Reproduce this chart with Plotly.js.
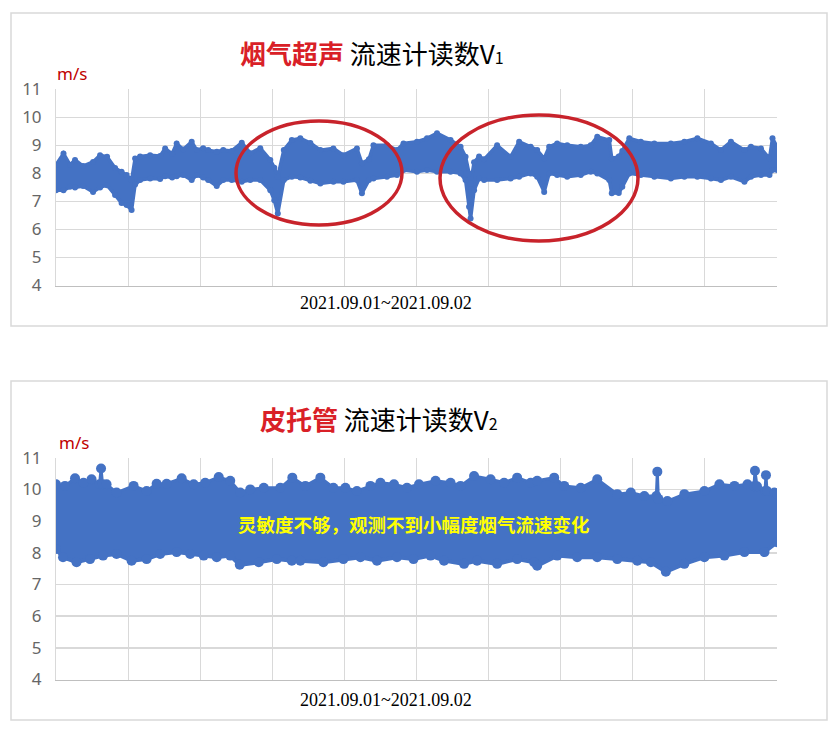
<!DOCTYPE html>
<html>
<head>
<meta charset="utf-8">
<script src="https://cdn.plot.ly/plotly-3.0.1.min.js"></script>
<style>
html,body{margin:0;padding:0;background:#fff;}
#chart{width:831px;height:733px;}
</style>
</head>
<body>
<div id="chart"></div>
<script>
// ---------- DATA ----------
// time axis: minutes over 2021.09.01~2021.09.02
const timeRange = [0, 1440];
const yTicks = [4, 5, 6, 7, 8, 9, 10, 11];
const xTitle = "2021.09.01~2021.09.02";

// Panel 1: ultrasonic flue-gas flow meter V1 (band: upper / lower envelope of the trace)
const t1 = [0,15,28,38,54,74,88,102,118,131,141,151,158,168,188,208,218,232,241,254,271,281,294,304,321,334,351,371,388,408,428,436,443,455,471,488,508,528,554,574,601,611,625,634,661,681,694,721,741,761,788,808,818,825,828,835,845,855,881,908,925,948,961,975,985,1001,1021,1048,1068,1081,1105,1110,1124,1131,1145,1168,1195,1228,1255,1281,1308,1328,1348,1375,1388,1408,1425,1431,1440];
const v1High = [8.3,8.71,8.3,8.48,8.26,8.41,8.65,8.59,8.19,8.06,7.94,7.76,8.53,8.6,8.65,8.62,8.89,8.7,9.07,8.85,9.13,8.83,8.9,8.83,8.77,8.83,8.8,9.09,8.72,8.9,8.48,8.2,7.88,8.83,9.19,9.25,9.08,8.83,8.89,8.65,8.89,8.36,8.5,9.0,9.0,8.83,9.07,9.13,9.25,9.43,9.19,8.95,8.59,8.0,7.64,8.4,8.6,8.5,9.0,8.59,9.13,8.95,8.83,8.53,8.95,9.07,9.0,8.95,9.0,9.31,9.19,8.53,8.6,8.8,9.25,9.13,9.07,9.07,9.13,9.25,9.07,8.83,9.13,8.83,8.95,8.89,8.53,9.25,8.95];
const v1Low = [7.4,7.4,7.52,7.5,7.55,7.34,7.5,7.58,7.23,6.94,6.87,6.69,7.6,7.76,7.82,7.8,7.9,7.85,7.9,7.94,7.76,7.94,7.85,7.76,7.55,7.76,7.76,7.7,7.76,7.76,7.4,7.04,6.57,7.76,7.88,7.85,7.74,7.64,7.7,7.7,7.76,7.29,7.76,7.82,7.88,7.94,8.12,8.06,8.12,8.06,8.06,8.0,7.76,6.81,6.39,7.4,7.82,7.76,7.76,7.82,7.88,8.0,7.88,7.34,8.0,7.94,7.88,7.94,8.06,8.0,7.76,7.29,7.3,7.52,8.0,7.94,7.88,7.82,7.88,7.88,7.82,7.76,7.88,7.7,7.88,7.94,7.94,8.12,8.12];

// Panel 2: pitot tube flow meter V2
const t2High = [0,18,38,55,71,87,90,93,101,121,155,181,201,221,251,275,298,325,348,368,388,415,448,472,498,528,554,578,601,628,648,675,701,725,758,788,808,835,868,895,921,948,961,995,1015,1048,1081,1121,1148,1175,1199,1201,1203,1221,1255,1295,1325,1355,1381,1394,1396,1400,1416,1418,1420,1435,1440];
const v2High = [10.16,10.11,10.35,10.21,10.32,10.16,10.66,10.16,10.16,9.9,10.11,9.95,10.18,10.18,10.35,10.16,10.21,10.39,10.27,9.9,10.0,10.05,10.05,10.37,10.11,10.37,10.05,10.05,9.95,10.11,10.21,10.16,10.05,10.16,10.27,10.21,10.11,10.42,10.32,10.21,10.37,10.21,10.27,10.37,10.11,10.05,10.32,9.85,9.9,9.79,9.79,10.56,9.7,9.63,9.85,9.95,10.16,10.11,10.16,10.1,10.59,10.1,9.95,10.45,9.95,9.9,9.85];
const t2Low = [0,14,41,68,94,121,151,181,208,241,268,295,321,348,367,405,441,471,488,534,574,608,641,681,714,748,775,815,841,881,921,955,961,1001,1041,1081,1121,1161,1188,1218,1255,1295,1335,1375,1415,1440];
const v2Low = [8.12,7.86,7.7,7.8,7.91,7.96,7.75,7.8,7.96,8.02,7.96,7.91,7.86,7.91,7.62,7.7,7.8,7.75,7.75,7.7,7.8,7.86,7.75,7.86,7.8,7.91,7.75,7.65,7.75,7.65,7.8,7.7,7.59,7.91,7.86,7.86,7.8,7.75,7.7,7.4,7.65,7.86,7.91,8.02,8.02,8.33];

// ---------- LAYOUT HELPERS ----------
const W = 831, H = 733;
const X = p => p / W;
const Y = p => 1 - p / H;
const BLUE = "#4472C4";
const GRID = "#d9d9d9";
const CJK = "'Noto Sans CJK SC', 'Noto Sans', sans-serif";
const NUM = "'Noto Sans', 'Liberation Sans', sans-serif";

const traces = [
  {x: t1, y: v1Low, xaxis: "x", yaxis: "y", mode: "lines+markers", line: {color: BLUE, width: 3.5}, marker: {color: BLUE, size: 6}, hoverinfo: "skip"},
  {x: t1, y: v1High, xaxis: "x", yaxis: "y", mode: "lines+markers", line: {color: BLUE, width: 3.5}, marker: {color: BLUE, size: 6}, fill: "tonexty", fillcolor: BLUE, hoverinfo: "skip"},
  {x: t2Low, y: v2Low, xaxis: "x2", yaxis: "y2", mode: "lines+markers", line: {color: BLUE, width: 4}, marker: {color: BLUE, size: 10}, hoverinfo: "skip"},
  {x: t2High, y: v2High, xaxis: "x2", yaxis: "y2", mode: "lines+markers", line: {color: BLUE, width: 3}, marker: {color: BLUE, size: 10}, fill: "tonexty", fillcolor: BLUE, hoverinfo: "skip"}
];

function xAxis(anchor) {
  return {domain: [X(56), X(777)], range: timeRange, anchor: anchor, dtick: 144, tick0: 0,
    showgrid: true, gridcolor: GRID, gridwidth: 1, showticklabels: false, ticks: "",
    zeroline: false, showline: true, linecolor: "#bfbfbf", linewidth: 1.5, fixedrange: true};
}
function yAxis(anchor, dom) {
  return {domain: dom, range: [4, 11], anchor: anchor, tickvals: yTicks, ticktext: yTicks.map(String),
    showgrid: true, gridcolor: GRID, gridwidth: 1.5, zeroline: false, showline: true, linecolor: GRID,
    ticks: "", ticklabelstandoff: 10, tickfont: {family: NUM, size: 17, color: "#666666"}, fixedrange: true};
}

function title(px, py, red, rest, sub) {
  return {xref: "paper", yref: "paper", x: X(px), y: Y(py), xanchor: "center", yanchor: "middle", showarrow: false,
    text: '<b><span style="color:#D92027">' + red + '</span></b> ' + rest + '<span style="font-size:16px">' + sub + '</span>',
    font: {family: CJK, size: 26, color: "#000000"}};
}

const layout = {
  width: W, height: H, margin: {l: 0, r: 0, t: 0, b: 0},
  paper_bgcolor: "#ffffff", plot_bgcolor: "#ffffff", showlegend: false,
  xaxis: xAxis("y"), yaxis: yAxis("x", [Y(285.5), Y(89.3)]),
  xaxis2: xAxis("y2"), yaxis2: yAxis("x2", [Y(679.5), Y(457.7)]),
  shapes: [
    {type: "rect", xref: "paper", yref: "paper", x0: X(11), x1: X(827), y0: Y(326), y1: Y(13), line: {color: GRID, width: 1.5}, layer: "below"},
    {type: "rect", xref: "paper", yref: "paper", x0: X(11), x1: X(827), y0: Y(720), y1: Y(381), line: {color: GRID, width: 1.5}, layer: "below"},
    {type: "circle", xref: "paper", yref: "paper", x0: X(236), x1: X(402), y0: Y(225), y1: Y(121), line: {color: "#C8232B", width: 3.5}, layer: "above"},
    {type: "circle", xref: "paper", yref: "paper", x0: X(440), x1: X(638), y0: Y(241), y1: Y(115), line: {color: "#C8232B", width: 3.5}, layer: "above"}
  ],
  annotations: [
    title(372, 52, "烟气超声", "流速计读数V", "1"),
    title(379, 418, "皮托管", "流速计读数V", "2"),
    {xref: "paper", yref: "paper", x: X(55), y: Y(73), xanchor: "left", yanchor: "middle", showarrow: false, text: "m/s", font: {family: NUM, size: 17, color: "#C00000"}},
    {xref: "paper", yref: "paper", x: X(57), y: Y(442), xanchor: "left", yanchor: "middle", showarrow: false, text: "m/s", font: {family: NUM, size: 17, color: "#C00000"}},
    {xref: "paper", yref: "paper", x: X(386), y: Y(303), xanchor: "center", yanchor: "middle", showarrow: false, text: xTitle, font: {family: "'Liberation Serif', 'Times New Roman', serif", size: 18, color: "#000000"}},
    {xref: "paper", yref: "paper", x: X(386), y: Y(700), xanchor: "center", yanchor: "middle", showarrow: false, text: xTitle, font: {family: "'Liberation Serif', 'Times New Roman', serif", size: 18, color: "#000000"}},
    {xref: "paper", yref: "paper", x: X(414), y: Y(524), xanchor: "center", yanchor: "middle", showarrow: false, text: "<b>灵敏度不够，观测不到小幅度烟气流速变化</b>", font: {family: CJK, size: 18.5, color: "#FFFF00"}}
  ]
};

Plotly.newPlot("chart", traces, layout, {staticPlot: true, displayModeBar: false});
</script>
</body>
</html>
